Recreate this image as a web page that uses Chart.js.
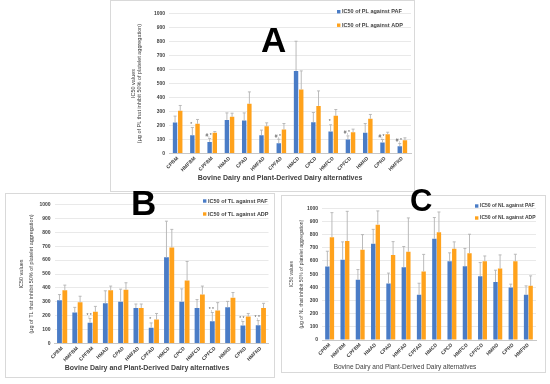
<!DOCTYPE html>
<html><head><meta charset="utf-8">
<script src="https://cdn.jsdelivr.net/npm/chart.js@4.4.1/dist/chart.umd.min.js"></script>
<style>
html,body{margin:0;padding:0;background:#fff;width:550px;height:384px;overflow:hidden;position:relative}
.panel{position:absolute;background:#fff}
.panel canvas{position:absolute;left:0;top:0}
.frame{position:absolute;border:1px solid #d9d9d9;box-sizing:border-box;pointer-events:none}
.letter{position:absolute;font-family:"Liberation Sans",Arial,sans-serif;font-weight:bold;line-height:1;color:#000}
</style></head><body>
<div class="panel" id="pA" style="left:110px;top:0px;width:305px;height:192px"><canvas id="cA" width="305" height="192"></canvas><div class="frame" style="left:0;top:0;width:305px;height:192px"></div></div>
<div class="panel" id="pB" style="left:5px;top:193px;width:270px;height:185px"><canvas id="cB" width="270" height="185"></canvas><div class="frame" style="left:0;top:0;width:270px;height:185px"></div></div>
<div class="panel" id="pC" style="left:281px;top:195px;width:265px;height:178px"><canvas id="cC" width="265" height="178"></canvas><div class="frame" style="left:0;top:0;width:265px;height:178px"></div></div>
<div class="letter" style="left:261px;top:22px;font-size:35px">A</div>
<div class="letter" style="left:131px;top:185px;font-size:35px">B</div>
<div class="letter" style="left:410px;top:185px;font-size:31px">C</div>
<script>
// ---- data ----
const categories = ['CPBM','HMFBM','CPFBM','HMAD','CPAD','HMFAD','CPFAD','HMCD','CPCD','HMFCD','CPFCD','HMRD','CPRD','HMFRD'];
const yMin = 0, yMax = 1000, yStep = 100;
const xTitleText = 'Bovine Dairy and Plant-Derived Dairy alternatives';

const plLabels = ['IC50 of PL against PAF', 'IC50 of PL against ADP'];
const plPaf   = [221,131,83,240,236,131,74,590,224,157,100,148,79,52];
const plPafSd = [46,55,24,50,54,36,28,212,69,48,26,66,21,19];
const plAdp   = [305,212,148,262,355,195,171,457,340,269,152,248,138,95];
const plAdpSd = [38,31,9,26,85,24,43,133,107,45,22,31,14,17];
const plMarks = ['','*','#,*','','','','#,*','','','*','#,*','','#,*','#,*'];
const plYTitle = ['IC50 values','(μg of PL that inhibit 50% of platelet aggregation)'];

const tlLabels = ['IC50 of TL against PAF', 'IC50 of TL against ADP'];
const tlPaf   = [311,223,150,289,301,255,114,620,301,255,160,260,129,131];
const tlPafSd = [41,37,30,90,90,29,34,260,92,61,63,43,29,34];
const tlAdp   = [383,296,228,383,386,255,172,690,454,352,238,330,194,255];
const tlAdpSd = [37,44,39,30,51,29,44,131,136,61,56,37,22,34];
const tlMarks = ['','','*,*','','','','*','','','','*,*','','*,*','*,*'];
const tlYTitle = ['IC50 values','(μg of TL that inhibit 50% of platelet aggregation)'];

const nlLabels = ['IC50 of NL against PAF', 'IC50 of NL against ADP'];
const nlPaf   = [558,609,457,730,429,553,343,768,598,560,485,440,398,343];
const nlPafSd = [116,136,78,110,79,157,88,162,64,135,103,90,26,68];
const nlAdp   = [780,752,685,876,645,670,520,818,692,659,598,543,598,411];
const nlAdpSd = [187,225,115,104,102,257,130,154,53,144,40,103,53,76];
const nlMarks = ['','','','','','','','','','','','','',''];
const nlYTitle = ['IC50 values','(μg of NL that inhibit 50% of platelet aggregation)'];

// ---- styles ----
const BLUE = '#4a7cc6', ORANGE = '#ffa21c', ERR = '#b3b3b3', FONT = '"Liberation Sans", Arial, sans-serif';

const errorBars = {
  id: 'errorBars',
  afterDatasetsDraw(chart) {
    const ctx = chart.ctx, ys = chart.scales.y;
    chart.data.datasets.forEach((ds, di) => {
      const meta = chart.getDatasetMeta(di);
      meta.data.forEach((bar, i) => {
        const v = ds.data[i], e = ds.errors[i];
        const yT = ys.getPixelForValue(v + e), yB = ys.getPixelForValue(v);
        ctx.save();
        ctx.strokeStyle = ERR; ctx.lineWidth = 0.9;
        ctx.beginPath();
        ctx.moveTo(bar.x, yB); ctx.lineTo(bar.x, yT);
        ctx.moveTo(bar.x - 1.5, yT); ctx.lineTo(bar.x + 1.5, yT);
        ctx.stroke();
        if (ds.marks && ds.marks[i]) {
          ctx.fillStyle = '#555'; ctx.font = '5px ' + FONT;
          ctx.textAlign = 'center'; ctx.textBaseline = 'bottom';
          ctx.fillText(ds.marks[i], bar.x - 1, yT - 0.5);
        }
        ctx.restore();
      });
    });
  }
};

const panelText = {
  id: 'panelText',
  afterDraw(chart, args, o) {
    const ctx = chart.ctx;
    ctx.save();
    chart.data.datasets.forEach((ds, i) => {
      const y = o.legY + i * o.legDy;
      ctx.fillStyle = ds.backgroundColor;
      ctx.fillRect(o.legX - 5, y - 1.7, 3.4, 3.4);
      ctx.fillStyle = '#404040';
      ctx.font = 'bold ' + o.legSize + 'px ' + FONT;
      ctx.textAlign = 'left'; ctx.textBaseline = 'middle';
      ctx.fillText(ds.label, o.legX, y);
    });
    ctx.fillStyle = '#404040';
    ctx.font = (o.xtBold ? 'bold ' : '') + o.xtSize + 'px ' + FONT;
    ctx.textAlign = 'center'; ctx.textBaseline = 'middle';
    ctx.fillText(xTitleText, o.xtX, o.xtY);
    ctx.restore();
  }
};

function makeChart(id, cfg) {
  return new Chart(document.getElementById(id), {
    type: 'bar',
    data: {
      labels: categories,
      datasets: [
        { label: cfg.labels[0], data: cfg.paf, errors: cfg.pafSd, marks: cfg.marks, backgroundColor: BLUE,
          categoryPercentage: cfg.catPct, barPercentage: cfg.barPct },
        { label: cfg.labels[1], data: cfg.adp, errors: cfg.adpSd, backgroundColor: ORANGE,
          categoryPercentage: cfg.catPct, barPercentage: cfg.barPct }
      ]
    },
    options: {
      responsive: false, animation: false, devicePixelRatio: 1,
      layout: { padding: { top: cfg.padTop, right: cfg.padRight, left: 0, bottom: 0 } },
      plugins: {
        legend: { display: false }, tooltip: { enabled: false },
        panelText: cfg.text
      },
      scales: {
        x: {
          grid: { display: false, drawTicks: false },
          border: { display: true, color: '#c8c8c8' },
          ticks: { autoSkip: false, minRotation: 45, maxRotation: 45, padding: 2,
                   color: '#404040', font: { family: FONT, size: 5, weight: 'bold' } },
          afterFit(s) { s.height = cfg.xH; }
        },
        y: {
          min: yMin, max: yMax,
          grid: { color: '#e3e3e3', drawTicks: false, lineWidth: 0.8 },
          border: { display: false },
          ticks: { stepSize: yStep, padding: 4, color: '#404040', font: { family: FONT, size: 5, weight: 'bold' },
                   callback: v => String(v) },
          title: { display: true, text: cfg.yTitle, color: '#404040',
                   font: { family: FONT, size: cfg.ytSize, lineHeight: cfg.ytLH },
                   padding: { top: cfg.ytPad, bottom: 0 } },
          afterFit(s) { s.width = cfg.yW; }
        }
      }
    },
    plugins: [errorBars, panelText]
  });
}

makeChart('cA', { labels: plLabels, paf: plPaf, pafSd: plPafSd, adp: plAdp, adpSd: plAdpSd, marks: plMarks, yTitle: plYTitle,
  catPct: 0.6, barPct: 0.85, padTop: 13.5, padRight: 4, xH: 38.5, yW: 59, ytSize: 5.5, ytLH: 1.2, ytPad: 20,
  text: { legX: 232, legY: 11.7, legDy: 13.5, legSize: 5.5, xtX: 170, xtY: 178, xtSize: 7, xtBold: true } });

makeChart('cB', { labels: tlLabels, paf: tlPaf, pafSd: tlPafSd, adp: tlAdp, adpSd: tlAdpSd, marks: tlMarks, yTitle: tlYTitle,
  catPct: 0.7, barPct: 0.9, padTop: 11.5, padRight: 6.5, xH: 34.5, yW: 49.5, ytSize: 5.5, ytLH: 1.9, ytPad: 11,
  text: { legX: 203, legY: 8, legDy: 13, legSize: 5.5, xtX: 142, xtY: 175, xtSize: 7, xtBold: true } });

makeChart('cC', { labels: nlLabels, paf: nlPaf, pafSd: nlPafSd, adp: nlAdp, adpSd: nlAdpSd, marks: nlMarks, yTitle: nlYTitle,
  catPct: 0.6, barPct: 0.95, padTop: 13.3, padRight: 10, xH: 33, yW: 41, ytSize: 5, ytLH: 2.0, ytPad: 6,
  text: { legX: 199, legY: 11, legDy: 12, legSize: 5, xtX: 124, xtY: 172, xtSize: 6.5, xtBold: false } });
</script>
</body></html>
